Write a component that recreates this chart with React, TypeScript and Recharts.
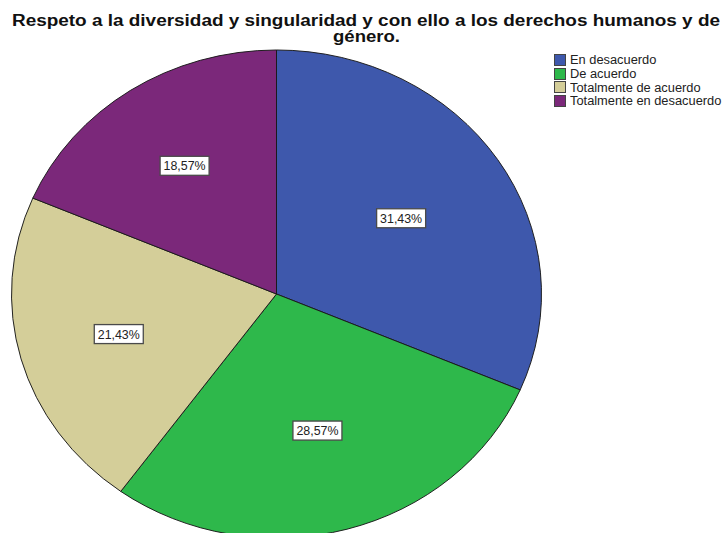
import { Cell, Legend, Pie, PieChart } from "recharts";

const CATEGORIES = ["En desacuerdo", "De acuerdo", "Totalmente de acuerdo", "Totalmente en desacuerdo"];
const PERCENTS = [31.43, 28.57, 21.43, 18.57];
const COLORS = ["#3e58ac", "#2eb84b", "#d4ce99", "#7b287a"];
const TITLE_LINES = ["Respeto a la diversidad y singularidad y con ello a los derechos humanos y de", "género."];

const data = CATEGORIES.map((name, i) => ({ name, value: PERCENTS[i] }));

const FONT = "'Liberation Sans', Arial, sans-serif";
const CX = 276.5;
const CY = 294;
const RX = 265;
const RY = 244;
const RAD = Math.PI / 180;

// SPSS puts the label near the slice centroid, pie is squashed into an ellipse
function renderLabel(props: any) {
  const { midAngle, percent, value } = props;
  const span = Math.abs(percent * 360) * RAD;
  const d = span > 0 ? ((2 / 3) * Math.sin(span / 2)) / (span / 2) : 0.5;
  const x = CX + RX * d * Math.cos(midAngle * RAD);
  const y = CY - RY * d * Math.sin(midAngle * RAD);
  const text = `${Number(value).toFixed(2).replace(".", ",")}%`;
  return (
    <g>
      <rect x={x - 24.5} y={y - 9.5} width={49} height={19} fill="#fff" stroke="#4a4a4a" strokeWidth={1.3} />
      <text
        x={x}
        y={y + 0.5}
        textAnchor="middle"
        dominantBaseline="central"
        fontSize={12}
        fill="#222"
        fontFamily={FONT}
        textLength={42}
        lengthAdjust="spacingAndGlyphs"
      >
        {text}
      </text>
    </g>
  );
}

function renderLegend() {
  return (
    <div style={{ fontFamily: FONT, fontSize: 12, color: "#222" }}>
      {CATEGORIES.map((name, i) => (
        <div key={name} style={{ display: "flex", alignItems: "center", height: 13.8 }}>
          <span
            style={{
              display: "inline-block",
              flex: "none",
              width: 10,
              height: 10,
              background: COLORS[i],
              border: "1px solid #444",
              marginRight: 4
            }}
          />
          <span style={{ whiteSpace: "nowrap", display: "inline-block", transform: "scaleX(1.07)", transformOrigin: "left center" }}>
            {name}
          </span>
        </div>
      ))}
    </div>
  );
}

export default function App() {
  return (
    <div style={{ position: "relative", width: 722, height: 533, overflow: "hidden", background: "#fff" }}>
      <style>{`
        body { margin: 0; overflow: hidden; }
        .ellipse-pie .recharts-sector { transform-origin: ${CX}px ${CY}px; transform: scaleY(${RY / RX}); }
      `}</style>
      <svg width={722} height={50} style={{ position: "absolute", left: 0, top: 0, zIndex: 2 }}>
        <text x={366} y={25.5} textAnchor="middle" fontFamily={FONT} fontWeight="bold" fontSize={16} fill="#111" textLength={708} lengthAdjust="spacingAndGlyphs">
          {TITLE_LINES[0]}
        </text>
        <text x={366.5} y={42} textAnchor="middle" fontFamily={FONT} fontWeight="bold" fontSize={16} fill="#111" textLength={67} lengthAdjust="spacingAndGlyphs">
          {TITLE_LINES[1]}
        </text>
      </svg>
      <PieChart width={722} height={533} margin={{ top: 0, right: 0, bottom: 0, left: 0 }}>
        <Pie
          className="ellipse-pie"
          data={data}
          dataKey="value"
          nameKey="name"
          cx={CX}
          cy={CY}
          outerRadius={RX}
          startAngle={90}
          endAngle={-270}
          stroke="#1a1a1a"
          strokeWidth={1}
          label={renderLabel}
          labelLine={false}
          isAnimationActive={false}
        >
          {data.map((entry, i) => (
            <Cell key={entry.name} fill={COLORS[i]} />
          ))}
        </Pie>
        <Legend
          content={renderLegend}
          layout="vertical"
          verticalAlign="top"
          align="right"
          wrapperStyle={{ position: "absolute", left: 554, top: 53, width: 168 }}
        />
      </PieChart>
    </div>
  );
}
